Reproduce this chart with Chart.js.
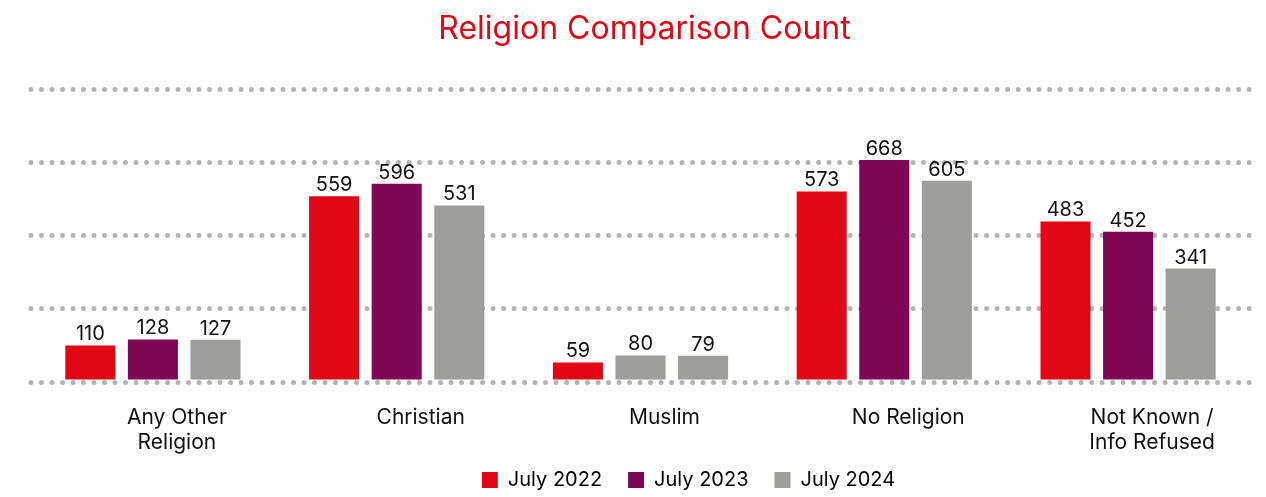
<!DOCTYPE html>
<html>
<head>
<meta charset="utf-8">
<script src="https://cdn.jsdelivr.net/npm/chart.js@4.4.1/dist/chart.umd.min.js"></script>
<style>
  html, body { margin: 0; padding: 0; background: #ffffff; }
  #wrap { width: 1266px; height: 497px; position: relative; }
</style>
</head>
<body>
<div id="wrap"><canvas id="c" width="1266" height="497"></canvas></div>
<script>
// ---- data ----
const categories = [["Any Other", "Religion"], "Christian", "Muslim", "No Religion", ["Not Known /", "Info Refused"]];
const seriesNames = ["July 2022", "July 2023", "July 2024"];
const july2022 = [110, 559, 59, 573, 483];
const july2023 = [128, 596, 80, 668, 452];
const july2024 = [127, 531, 79, 605, 341];

// ---- styles ----
const RED = "#e20714";
const PURPLE = "#800656";
const GREY = "#9e9e9d";
const FONT = "Inter";

const purpleBars = july2023.map((v, i) => (i === 2 ? GREY : PURPLE)); // Muslim 2023 bar shown grey in reference

const dotCapPlugin = {
  id: "dotCap",
  beforeDraw(chart) { chart.ctx.lineCap = "round"; }
};

const shiftBoxes = {
  id: "shiftBoxes",
  afterLayout(chart) {
    if (chart.legend) { chart.legend.left += 48; chart.legend.right += 48; }
    if (chart.titleBlock) { chart.titleBlock.left += 4; chart.titleBlock.right += 4; }
  }
};

const valueLabels = {
  id: "valueLabels",
  afterDatasetsDraw(chart) {
    const ctx = chart.ctx;
    ctx.save();
    ctx.lineCap = "butt";
    ctx.font = "20px " + FONT;
    ctx.fillStyle = "#111111";
    ctx.textAlign = "center";
    ctx.textBaseline = "alphabetic";
    chart.data.datasets.forEach((ds, di) => {
      const meta = chart.getDatasetMeta(di);
      meta.data.forEach((bar, i) => {
        ctx.fillText(String(ds.data[i]), bar.x, bar.y - 5);
      });
    });
    ctx.restore();
  }
};

new Chart(document.getElementById("c"), {
  type: "bar",
  data: {
    labels: categories,
    datasets: [
      { label: seriesNames[0], data: july2022, backgroundColor: RED },
      { label: seriesNames[1], data: july2023, backgroundColor: purpleBars },
      { label: seriesNames[2], data: july2024, backgroundColor: GREY }
    ]
  },
  options: {
    responsive: false,
    animation: false,
    devicePixelRatio: 1,
    layout: { padding: { left: 31, right: 16, top: 0, bottom: -3 } },
    datasets: { bar: { categoryPercentage: 0.77, barPercentage: 0.8 } },
    plugins: {
      title: {
        display: true,
        text: "Religion Comparison Count",
        color: RED,
        font: { family: FONT, size: 32, weight: "normal", lineHeight: 1.2 },
        padding: { top: 10, bottom: 41 }
      },
      legend: {
        display: true,
        position: "bottom",
        labels: {
          boxWidth: 16,
          boxHeight: 16,
          padding: 26,
          color: "#111111",
          font: { family: FONT, size: 20 },
          generateLabels(chart) {
            return chart.data.datasets.map((ds, i) => ({
              text: ds.label,
              fillStyle: [RED, PURPLE, GREY][i],
              strokeStyle: [RED, PURPLE, GREY][i],
              lineWidth: 0,
              hidden: false,
              datasetIndex: i
            }));
          }
        }
      },
      tooltip: { enabled: false }
    },
    scales: {
      x: {
        grid: { display: false, drawTicks: false },
        border: { display: false },
        ticks: {
          color: "#111111",
          font: { family: FONT, size: 21, lineHeight: 1.19 },
          padding: 23,
          labelOffset: 24,
          maxRotation: 0,
          autoSkip: false
        },
        afterFit(scale) {
          scale.height = 62;
          scale._computeLabelArea = function () { return undefined; };
        }
      },
      y: {
        min: 0,
        max: 880,
        ticks: { display: false, stepSize: 220 },
        grid: { color: "#b4b4b4", lineWidth: 5, drawTicks: false },
        border: { display: false, dash: [0.001, 10.5] },
        afterFit(scale) { scale.width = 0; }
      }
    }
  },
  plugins: [dotCapPlugin, shiftBoxes, valueLabels]
});
</script>
</body>
</html>
